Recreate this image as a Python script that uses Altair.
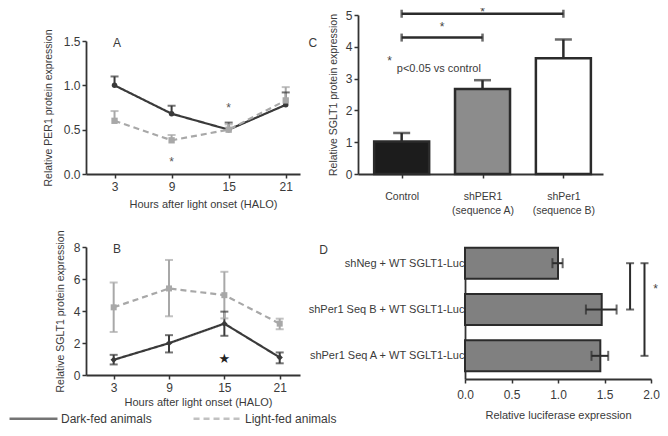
import altair as alt
import pandas as pd

# ---------------- data ----------------
groups = ["Dark-fed animals", "Light-fed animals"]
hours = [3, 9, 15, 21]

# Panel A (PER1 protein, upper error only)
a_dark = [1.00, 0.68, 0.50, 0.78]
a_dark_hi = [1.10, 0.77, 0.58, 0.92]
a_light = [0.60, 0.38, 0.50, 0.83]
a_light_hi = [0.71, 0.44, 0.56, 0.98]
a_star_hour = [15, 9]
a_star_y = [0.74, 0.13]
a_label_pos = [3.25, 1.48]

# Panel B (SGLT1 protein)
b_dark = [0.95, 1.99, 3.21, 1.10]
b_dark_lo = [0.66, 1.41, 2.45, 0.73]
b_dark_hi = [1.26, 2.49, 3.96, 1.41]
b_light = [4.23, 5.41, 4.99, 3.21]
b_light_lo = [2.69, 3.67, 3.54, 2.86]
b_light_hi = [5.78, 7.19, 6.45, 3.52]
b_star_hour = [15]
b_star_y = [0.99]
b_label_pos = [3.35, 7.87]

# Panel C (SGLT1 after shPER1)
c_cats = ["Control", "shPER1|(sequence A)", "shPer1|(sequence B)"]
c_vals = [1.02, 2.67, 3.64]
c_hi = [1.29, 2.95, 4.23]
c_br_from = [0, 0]
c_br_to = [1, 2]
c_br_y = [4.29, 5.04]
c_star_y = [4.63, 5.10]
c_note_star = [-0.15, 3.54]
c_note_text = [-0.06, 3.30]
c_label_pos = [-1.10, 4.13]

# Panel D (luciferase)
d_cats = ["shNeg + WT SGLT1-Luc", "shPer1 Seq B + WT SGLT1-Luc", "shPer1 Seq A + WT SGLT1-Luc"]
d_vals = [1.00, 1.47, 1.455]
d_lo = [0.94, 1.30, 1.36]
d_hi = [1.05, 1.63, 1.54]
d_br_x = [1.775, 1.93]
d_br_from = [0, 0]
d_br_to = [1, 2]
d_star = [2.05, 0.56]
d_label_pos = [-1.52, -0.29]

# ---------------- styles ----------------
FONT = "Liberation Sans"
INK = "#2b2b2b"
TXT = "#3a3a3a"
cscale = alt.Scale(domain=groups, range=["#3a3a3a", "#a8a8a8"])
dscale = alt.Scale(domain=groups, range=[[1, 0], [6, 4]])
c_fill = ["#1c1c1c", "#8c8c8c", "#ffffff"]

legend = alt.Legend(
    orient="none", legendX=-78, legendY=378, direction="horizontal", title=None,
    symbolType="stroke", symbolSize=2300, symbolStrokeWidth=2.5, labelFontSize=12,
    labelOffset=2, columnPadding=36, labelColor=TXT, labelFont=FONT, padding=0)
COL = alt.Color("group:N", scale=cscale, legend=legend)
DASH = alt.StrokeDash("group:N", scale=dscale, legend=legend)


def label_chart(text, x, y, xf, yf, xs, ys, xax, yax, size=12):
    return alt.Chart(pd.DataFrame({xf: [x], yf: [y], "t": [text]})).mark_text(
        fontSize=size, color=TXT, align="center", baseline="middle", font=FONT
    ).encode(x=alt.X(f"{xf}:Q", scale=xs, axis=xax), y=alt.Y(f"{yf}:Q", scale=ys, axis=yax), text="t:N")

# ---------------- Panel A ----------------
dfA = pd.DataFrame({
    "hour": hours * 2,
    "value": a_dark + a_light,
    "hi": a_dark_hi + a_light_hi,
    "group": [groups[0]] * 4 + [groups[1]] * 4,
})
xA_scale = alt.Scale(domain=[0, 22.5], nice=False, zero=False, padding=0)
yA_scale = alt.Scale(domain=[0, 1.5], nice=False, padding=0, range=[159, 26])
axA = alt.Axis(values=hours, title="Hours after light onset (HALO)", labelFontSize=12,
               titleFontSize=11, labelPadding=3, titlePadding=6, titleX=117)
ayA = alt.Axis(values=[0, 0.5, 1.0, 1.5], format=".1f", title="Relative PER1 protein expression",
               labelFontSize=12, titleFontSize=10.5, labelPadding=2, titlePadding=10)
xA = alt.X("hour:Q", scale=xA_scale, axis=axA)
yA = alt.Y("value:Q", scale=yA_scale, axis=ayA)
yAhi = alt.Y("hi:Q", scale=yA_scale, axis=ayA)
baseA = alt.Chart(dfA)
lineA = baseA.mark_line(strokeWidth=2.2).encode(x=xA, y=yA, color=COL, strokeDash=DASH)
errA = baseA.mark_rule(strokeWidth=2).encode(x=xA, y=yA, y2="hi:Q", color=COL)
capA = baseA.mark_tick(orient="horizontal", size=8, thickness=2).encode(x=xA, y=yAhi, color=COL)
ptA1 = baseA.transform_filter(alt.datum.group == groups[0]).mark_point(
    filled=True, shape="circle", size=30, opacity=1).encode(x=xA, y=yA, color=COL)
ptA2 = baseA.transform_filter(alt.datum.group == groups[1]).mark_point(
    filled=True, shape="square", size=40, opacity=1).encode(x=xA, y=yA, color=COL)
starA = alt.Chart(pd.DataFrame({"hour": a_star_hour, "value": a_star_y})).mark_text(
    text="*", fontSize=12, color="#555", font=FONT).encode(x=xA, y=yA)
labA = label_chart("A", a_label_pos[0], a_label_pos[1], "hour", "value", xA_scale, yA_scale, axA, ayA)
panelA = alt.layer(lineA, errA, capA, ptA1, ptA2, starA, labA).properties(width=214, height=159)

# ---------------- Panel B ----------------
dfB = pd.DataFrame({
    "hour": hours * 2,
    "value": b_dark + b_light,
    "lo": b_dark_lo + b_light_lo,
    "hi": b_dark_hi + b_light_hi,
    "group": [groups[0]] * 4 + [groups[1]] * 4,
})
xB_scale = alt.Scale(domain=[0, 23.2], nice=False, zero=False, padding=0)
yB_scale = alt.Scale(domain=[0, 8], nice=False, padding=0, range=[128, 0])
axB = alt.Axis(values=hours, title="Hours after light onset (HALO)", labelFontSize=12,
               titleFontSize=11, labelPadding=3, titlePadding=3, titleX=112)
ayB = alt.Axis(values=[0, 2, 4, 6, 8], format="d", title="Relative SGLT1 protein expression",
               labelFontSize=12, titleFontSize=10.5, labelPadding=2, titlePadding=8)
xB = alt.X("hour:Q", scale=xB_scale, axis=axB)
yB = alt.Y("value:Q", scale=yB_scale, axis=ayB)
yBlo = alt.Y("lo:Q", scale=yB_scale, axis=ayB)
yBhi = alt.Y("hi:Q", scale=yB_scale, axis=ayB)
baseB = alt.Chart(dfB)
lineB = baseB.mark_line(strokeWidth=2.2).encode(x=xB, y=yB, color=COL, strokeDash=DASH)
errB = baseB.mark_rule(strokeWidth=2).encode(x=xB, y=yBlo, y2="hi:Q", color=COL)
capB1 = baseB.mark_tick(orient="horizontal", size=8, thickness=2).encode(x=xB, y=yBhi, color=COL)
capB2 = baseB.mark_tick(orient="horizontal", size=8, thickness=2).encode(x=xB, y=yBlo, color=COL)
ptB1 = baseB.transform_filter(alt.datum.group == groups[0]).mark_point(
    filled=True, shape="diamond", size=40, opacity=1).encode(x=xB, y=yB, color=COL)
ptB2 = baseB.transform_filter(alt.datum.group == groups[1]).mark_point(
    filled=True, shape="square", size=36, opacity=1).encode(x=xB, y=yB, color=COL)
starB = alt.Chart(pd.DataFrame({"hour": b_star_hour, "value": b_star_y})).mark_text(
    text="★", fontSize=13, color="#222", font="DejaVu Sans").encode(x=xB, y=yB)
labB = label_chart("B", b_label_pos[0], b_label_pos[1], "hour", "value", xB_scale, yB_scale, axB, ayB)
panelB = alt.layer(lineB, errB, capB1, capB2, ptB1, ptB2, starB, labB).properties(width=214, height=128)

# ---------------- Panel C ----------------
dfC = pd.DataFrame({"idx": list(range(len(c_cats))), "cat": c_cats, "value": c_vals, "hi": c_hi})
c_expr = "split([" + ",".join("'" + c + "'" for c in c_cats) + "][datum.value], '|')"
xC_scale = alt.Scale(domain=[-0.54, 2.49], nice=False, zero=False, padding=0)
yC_scale = alt.Scale(domain=[0, 5], nice=False, padding=0)
axC = alt.Axis(values=[0, 1, 2], labelExpr=c_expr, title=None, labelFontSize=10.5,
               labelPadding=13, labelLineHeight=14)
ayC = alt.Axis(values=[0, 1, 2, 3, 4, 5], format="d", title="Relative SGLT1 protein expression",
               labelFontSize=12, titleFontSize=10.5, labelPadding=2, titlePadding=7)
xC = alt.X("idx:Q", scale=xC_scale, axis=axC)
yC = alt.Y("value:Q", scale=yC_scale, axis=ayC)
baseC = alt.Chart(dfC)
barC = baseC.mark_bar(size=55, orient="vertical", stroke=INK, strokeWidth=2.5).encode(
    x=xC, y=yC, fill=alt.Fill("cat:N", scale=alt.Scale(domain=c_cats, range=c_fill), legend=None))
errC = baseC.mark_rule(strokeWidth=2.5, color=INK).encode(x=xC, y=yC, y2="hi:Q")
capC = baseC.mark_tick(orient="horizontal", size=17, thickness=2.5, color=INK).encode(
    x=xC, y=alt.Y("hi:Q", scale=yC_scale, axis=ayC))
dfCb = pd.DataFrame({"x0": c_br_from, "x1": c_br_to, "value": c_br_y, "sy": c_star_y})
brC = alt.Chart(dfCb).mark_rule(strokeWidth=2.5, color=INK).encode(
    x=alt.X("x0:Q", scale=xC_scale, axis=axC), x2="x1:Q", y=yC)
dfCc = pd.DataFrame({"idx": c_br_from + c_br_to, "value": c_br_y + c_br_y})
brCapC = alt.Chart(dfCc).mark_tick(orient="vertical", size=8, thickness=2.5, color=INK).encode(
    x=xC, y=yC)
starC = alt.Chart(dfCb).transform_calculate(mid="(datum.x0 + datum.x1) / 2").mark_text(
    text="*", fontSize=12, color="#444", font=FONT).encode(
    x=alt.X("mid:Q", scale=xC_scale, axis=axC), y=alt.Y("sy:Q", scale=yC_scale, axis=ayC))
noteStar = alt.Chart(pd.DataFrame({"idx": [c_note_star[0]], "value": [c_note_star[1]]})).mark_text(
    text="*", fontSize=12, color="#444", font=FONT).encode(x=xC, y=yC)
noteText = alt.Chart(pd.DataFrame({"idx": [c_note_text[0]], "value": [c_note_text[1]]})).mark_text(
    text="p<0.05 vs control", fontSize=11, color=TXT, font=FONT, align="left").encode(x=xC, y=yC)
labC = label_chart("C", c_label_pos[0], c_label_pos[1], "idx", "value", xC_scale, yC_scale, axC, ayC)
panelC = alt.layer(barC, errC, capC, brC, brCapC, starC, noteStar, noteText, labC).properties(
    width=245, height=159)

# ---------------- Panel D ----------------
dfD = pd.DataFrame({"idx": list(range(len(d_cats))), "cat": d_cats, "value": d_vals,
                    "lo": d_lo, "hi": d_hi})
d_expr = "[" + ",".join("'" + c + "'" for c in d_cats) + "][datum.value]"
xD_scale = alt.Scale(domain=[0, 2], nice=False, padding=0, range=[107, 293])
yD_scale = alt.Scale(domain=[-0.35, 2.5], nice=False, zero=False, padding=0, reverse=True)
axD = alt.Axis(values=[0, 0.5, 1.0, 1.5, 2.0], format=".1f", title="Relative luciferase expression",
               labelFontSize=12, titleFontSize=11, labelPadding=6, titlePadding=9)
ayD = alt.Axis(values=[0, 1, 2], labelExpr=d_expr, ticks=False, title=None, labelFontSize=11,
               labelPadding=1, offset=-107)
xD = alt.X("value:Q", scale=xD_scale, axis=axD)
yD = alt.Y("idx:Q", scale=yD_scale, axis=ayD)
baseD = alt.Chart(dfD)
barD = baseD.mark_bar(size=31, orient="horizontal", fill="#808080", stroke=INK, strokeWidth=2).encode(
    x=xD, y=yD)
xDlo = alt.X("lo:Q", scale=xD_scale, axis=axD)
xDhi = alt.X("hi:Q", scale=xD_scale, axis=axD)
errD = baseD.mark_rule(strokeWidth=2, color=INK).encode(x=xDlo, x2="hi:Q", y=yD)
capD1 = baseD.mark_tick(orient="vertical", size=10, thickness=2, color=INK).encode(x=xDlo, y=yD)
capD2 = baseD.mark_tick(orient="vertical", size=10, thickness=2, color=INK).encode(x=xDhi, y=yD)
dfDb = pd.DataFrame({"value": d_br_x, "y0": d_br_from, "y1": d_br_to})
brD = alt.Chart(dfDb).mark_rule(strokeWidth=2, color=INK).encode(
    x=xD, y=alt.Y("y0:Q", scale=yD_scale, axis=ayD), y2="y1:Q")
dfDc = pd.DataFrame({"value": d_br_x + d_br_x, "idx": d_br_from + d_br_to})
brCapD = alt.Chart(dfDc).mark_tick(orient="horizontal", size=8, thickness=2, color=INK).encode(
    x=xD, y=yD)
starD = alt.Chart(pd.DataFrame({"value": [d_star[0]], "idx": [d_star[1]]})).mark_text(
    text="*", fontSize=12, color="#444", font=FONT).encode(x=xD, y=yD)
labD = label_chart("D", d_label_pos[0], d_label_pos[1], "value", "idx", xD_scale, yD_scale, axD, ayD)
panelD = alt.layer(barD, errD, capD1, capD2, brD, brCapD, starD, labD).properties(width=293, height=132)

# ---------------- layout ----------------
chart = alt.concat(panelA, panelC, panelB, panelD, columns=2,
                   spacing={"row": 73, "column": 58}, bounds="flush").properties(
    padding={"left": 0, "top": -3, "right": 0, "bottom": 1}
).configure(font=FONT).configure_view(stroke=None).configure_axis(
    grid=False, domainColor="#333", domainWidth=1.8, tickColor="#333", tickWidth=1.5,
    tickSize=4, labelColor=TXT, titleColor=TXT, labelFont=FONT, titleFont=FONT,
    titleFontWeight="normal", labelOverlap=False, labelFlush=False)

chart.save("out.html", embed_options={"renderer": "svg", "actions": False})
